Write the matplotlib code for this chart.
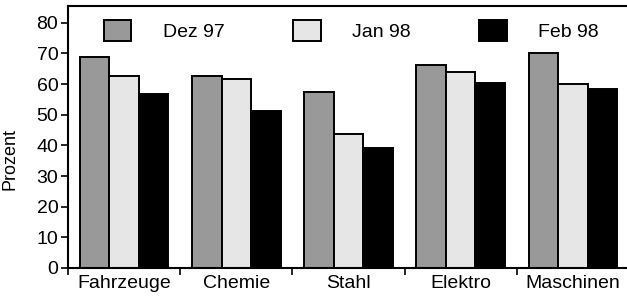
import numpy as np
import matplotlib
matplotlib.use("Agg")
import matplotlib.pyplot as plt

plt.rcParams['font.family'] = ['Liberation Sans', 'DejaVu Sans']

# Daten
kategorien = ["Fahrzeuge", "Chemie", "Stahl", "Elektro", "Maschinen"]
serien = ["Dez 97", "Jan 98", "Feb 98"]
dez97 = [69.0, 62.8, 57.4, 66.3, 70.2]
jan98 = [62.8, 61.8, 43.7, 63.8, 60.0]
feb98 = [56.8, 51.3, 39.3, 60.4, 58.5]
farben = ["#999999", "#e6e6e6", "#000000"]

fig = plt.figure(figsize=(6.27, 2.99), dpi=100)
ax = fig.add_axes([68 / 627, 31 / 299, 561 / 627, 262 / 299])

x = np.arange(len(kategorien))
w = 0.263
for i, (werte, name) in enumerate(zip([dez97, jan98, feb98], serien)):
    ax.bar(x + (i - 1) * w, werte, width=w, color=farben[i],
           edgecolor="black", linewidth=1.4, label=name)

ax.set_xlim(-0.5, 4.5)
ax.set_ylim(0, 85.5)
ax.set_yticks(range(0, 81, 10))
ax.tick_params(axis="y", direction="out", length=5, width=1.2, labelsize=14, pad=2)

# Trennstriche zwischen Kategorien
ax.set_xticks(np.arange(-0.5, 5, 1.0))
ax.set_xticklabels([])
ax.tick_params(axis="x", which="major", direction="out", length=5, width=1.2)
ax.set_xticks(x, minor=True)
ax.set_xticklabels(kategorien, minor=True, fontsize=14)
ax.tick_params(axis="x", which="minor", length=0, pad=5)

for s in ["left", "bottom", "top"]:
    ax.spines[s].set_linewidth(1.5)
ax.spines["right"].set_visible(False)

ax.set_ylabel("Prozent", fontsize=13)
ax.yaxis.set_label_coords(-0.088, 0.416)

ax.legend(ncol=3, frameon=False, fontsize=14, loc="center",
          bbox_to_anchor=(0.505, 0.905), handlelength=1.4, handleheight=1.25,
          handletextpad=1.6, columnspacing=3.55, borderaxespad=0)

plt.savefig("out.png", dpi=100)
